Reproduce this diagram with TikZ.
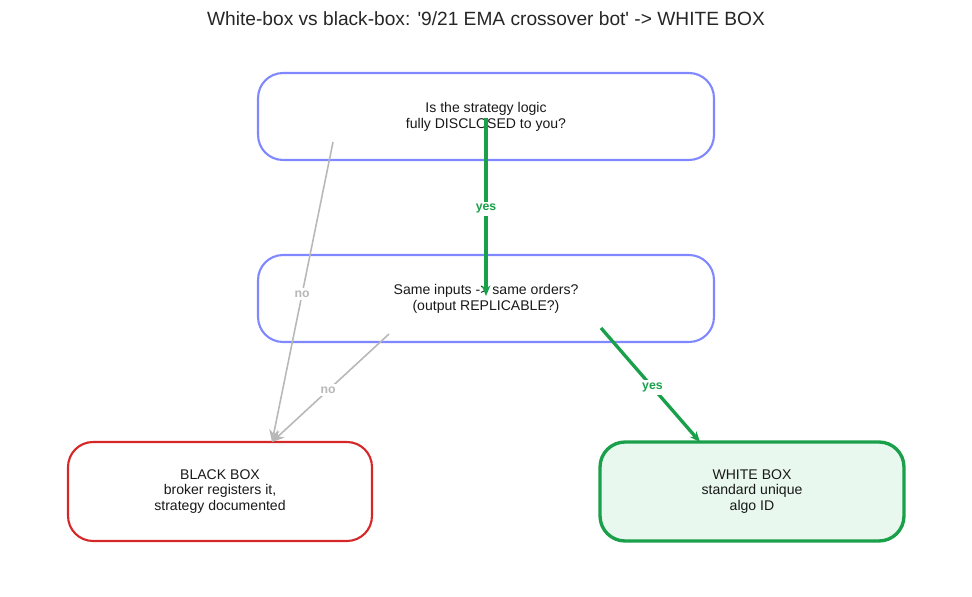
\documentclass[tikz,border=0pt]{standalone}
\usepackage{fontspec}
\setmainfont{Liberation Sans}
\usetikzlibrary{positioning,arrows.meta}
\definecolor{qblue}{HTML}{8088FF}
\definecolor{bred}{HTML}{D62728}
\definecolor{wgreen}{HTML}{1AA04A}
\definecolor{wfill}{HTML}{E8F8EE}
\definecolor{ngray}{HTML}{B8B8B8}
\tikzset{
  box/.style={draw,rounded corners=0.5cm,align=center,font=\fontsize{8}{9}\selectfont,inner sep=0pt},
  qbox/.style={box,qblue,line width=1.2pt,minimum width=9.12cm,minimum height=1.74cm,text=black!90},
  lab/.style={fill=white,font=\bfseries\fontsize{7}{8}\selectfont,inner sep=1.5pt},
  yesarr/.style={wgreen,line width=1.9pt,-{Stealth[length=6pt,width=5pt]}},
  noarr/.style={ngray,line width=0.9pt,-{Stealth[length=7pt,width=6pt]}}
}
\begin{document}
\begin{tikzpicture}[x=0.02cm,y=-0.02cm]
\useasboundingbox (0,0) rectangle (972,597);
\node[font=\fontsize{10.9}{12}\selectfont,text=black!85] (title) at (486,19) {White-box vs black-box: \textquotesingle 9/21 EMA crossover bot\textquotesingle\ -> WHITE BOX};
\node[qbox] (q1) at (486,116.5) {Is the strategy logic\\fully DISCLOSED to you?};
\node[qbox] (q2) at (486,298.5) {Same inputs -> same orders?\\(output REPLICABLE?)};
\node[box,bred,line width=1.2pt,minimum width=6.08cm,minimum height=1.98cm,text=black!90] (black) at (220,491.5) {BLACK BOX\\broker registers it,\\strategy documented};
\node[box,wgreen,fill=wfill,line width=1.9pt,minimum width=6.08cm,minimum height=1.98cm,text=black!90] (white) at (752,491.5) {WHITE BOX\\standard unique\\algo ID};
% connector end points
\coordinate (q1yes) at (486,118);
\coordinate (q2in) at (486,296);
\coordinate (q1no) at (333,142);
\coordinate (q2no) at (389,334);
\coordinate (q2yes) at (601,328);
\coordinate (blackin) at (272,442);
\coordinate (whitein) at (700,442);
\draw[yesarr] (q1yes) -- node[lab,text=wgreen,pos=0.51] {yes} (q2in);
\draw[noarr] (q1no) -- node[lab,text=ngray,pos=0.508] {no} (blackin);
\draw[noarr] (q2no) -- node[lab,text=ngray,pos=0.52] {no} (blackin);
\draw[yesarr] (q2yes) -- node[lab,text=wgreen,pos=0.52] {yes} (whitein);
\end{tikzpicture}
\end{document}
